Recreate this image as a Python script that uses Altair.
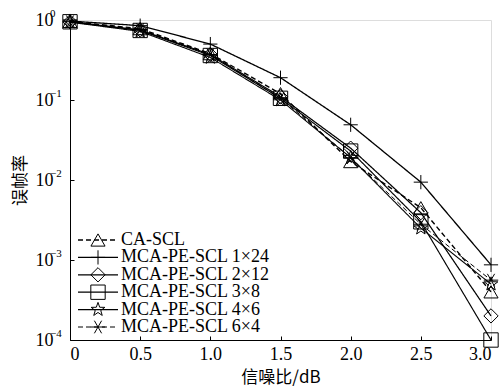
import altair as alt
import pandas as pd

snr = [0, 0.5, 1.0, 1.5, 2.0, 2.5, 3.0]
series = ["CA-SCL", "MCA-PE-SCL 1×24", "MCA-PE-SCL 2×12", "MCA-PE-SCL 3×8",
          "MCA-PE-SCL 4×6", "MCA-PE-SCL 6×4"]
fer_ca = [0.96, 0.78, 0.38, 0.12, 0.017, 0.0045, 0.0004]
fer_1x24 = [0.97, 0.85, 0.50, 0.19, 0.049, 0.0094, 0.00087]
fer_2x12 = [0.95, 0.75, 0.37, 0.11, 0.025, 0.0039, 0.0002]
fer_3x8 = [0.95, 0.74, 0.36, 0.105, 0.023, 0.0030, 0.0001]
fer_4x6 = [0.94, 0.72, 0.34, 0.10, 0.019, 0.0025, 0.0005]
fer_6x4 = [0.95, 0.76, 0.37, 0.105, 0.019, 0.0028, 0.00056]
all_fer = [fer_ca, fer_1x24, fer_2x12, fer_3x8, fer_4x6, fer_6x4]

x_ticks = [0, 0.5, 1.0, 1.5, 2.0, 2.5, 3.0]
y_ticks = [1, 0.1, 0.01, 0.001, 0.0001]
y_exponents = ["0", "−1", "−2", "−3", "−4"]

rows = []
for name, vals in zip(series, all_fer):
    for s, v in zip(snr, vals):
        rows.append({"series": name, "snr": s, "fer": v})
df = pd.DataFrame(rows)
legend_df = pd.DataFrame({"series": series})
exp_df = pd.DataFrame({"fer": y_ticks, "exp": y_exponents})

PLUS = "M-1,0L1,0M0,-1L0,1"
STAR = ("M0,-1L0.235,-0.324L0.951,-0.309L0.380,0.124L0.588,0.809L0,0.4"
        "L-0.588,0.809L-0.380,0.124L-0.951,-0.309L-0.235,-0.324Z")
AST = "M-1,0L1,0M-0.5,-0.87L0.5,0.87M-0.5,0.87L0.5,-0.87"
shapes = ["triangle-up", PLUS, "diamond", "square", STAR, AST]
dashes = [[5, 3], [1, 0], [1, 0], [1, 0], [1, 0], [5, 3]]
widths = [1.4, 1, 1, 1, 1, 1.4]
sizes = [200, 210, 160, 130, 230, 150]

shape_scale = alt.Scale(domain=series, range=shapes)
dash_scale = alt.Scale(domain=series, range=dashes)
width_scale = alt.Scale(domain=series, range=widths)
size_scale = alt.Scale(domain=series, range=sizes)

FONT = "Liberation Serif"
CJK = "Noto Sans CJK SC"

y_scale = alt.Scale(type="log", domain=[0.0001, 1], nice=False)

x_enc = alt.X("snr:Q", scale=alt.Scale(domain=[0, 3], nice=False),
              axis=alt.Axis(values=x_ticks, title="信噪比/dB", titleFont=CJK,
                            titleFontSize=17, titleFontWeight="normal",
                            titlePadding=6,
                            labelExpr="datum.value == 0 ? '0' : format(datum.value, '.1f')",
                            labelFont=FONT, labelFontSize=18, labelPadding=9,
                            grid=False, tickSize=alt.ExprRef(expr="-4"),
                            domainColor="black", tickColor="black",
                            labelColor="black", titleColor="black"))
y_enc = alt.Y("fer:Q", scale=y_scale,
              axis=alt.Axis(values=y_ticks, title="误帧率", titleFont=CJK,
                            titleFontSize=17, titleFontWeight="normal",
                            titlePadding=6,
                            labelExpr="'10'",
                            labelFont=FONT, labelFontSize=18, labelPadding=21,
                            grid=False, tickSize=alt.ExprRef(expr="-4"),
                            domainColor="black", tickColor="black",
                            labelColor="black", titleColor="black"))

lines = alt.Chart(df).mark_line(color="black").encode(
    x=x_enc, y=y_enc,
    strokeDash=alt.StrokeDash("series:N", scale=dash_scale, legend=None),
    strokeWidth=alt.StrokeWidth("series:N", scale=width_scale, legend=None),
    detail="series:N",
)
points = alt.Chart(df).mark_point(color="black", filled=False, strokeWidth=1, opacity=1).encode(
    x="snr:Q", y="fer:Q",
    shape=alt.Shape("series:N", scale=shape_scale, legend=None),
    size=alt.Size("series:N", scale=size_scale, legend=None),
)
exps = alt.Chart(exp_df).mark_text(align="left", baseline="middle", font=FONT,
                                   fontSize=11, color="black", dy=-6).encode(
    x=alt.value(-20), y=alt.Y("fer:Q"), text="exp:N",
)

leg_y = alt.Y("series:N", scale=alt.Scale(type="point", domain=series, range=[220, 307], padding=0), axis=None)
leg_rule = alt.Chart(legend_df).mark_rule(color="black").encode(
    x=alt.value(8), x2=alt.value(48), y=leg_y,
    strokeDash=alt.StrokeDash("series:N", scale=dash_scale, legend=None),
    strokeWidth=alt.StrokeWidth("series:N", scale=width_scale, legend=None),
)
leg_pt = alt.Chart(legend_df).mark_point(color="black", filled=False, strokeWidth=1, opacity=1).encode(
    x=alt.value(28), y=leg_y,
    shape=alt.Shape("series:N", scale=shape_scale, legend=None),
    size=alt.Size("series:N", scale=size_scale, legend=None),
)
leg_txt = alt.Chart(legend_df).mark_text(align="left", baseline="middle", font=FONT,
                                         fontSize=18, color="black").encode(
    x=alt.value(51), y=leg_y, text="series:N",
)

main = alt.layer(lines, points, exps)
legend = alt.layer(leg_rule, leg_pt, leg_txt)

chart = alt.layer(main, legend).resolve_scale(y="independent").properties(
    width=421, height=320,
    autosize=alt.AutoSizeParams(type="none"),
    padding={"left": 70, "top": 20, "right": 12, "bottom": 49},
).configure_view(stroke="black", strokeWidth=1).configure_axis(
    labelFont=FONT
).configure(background="white")

chart.save("out.html", embed_options={"renderer": "svg", "actions": False})
